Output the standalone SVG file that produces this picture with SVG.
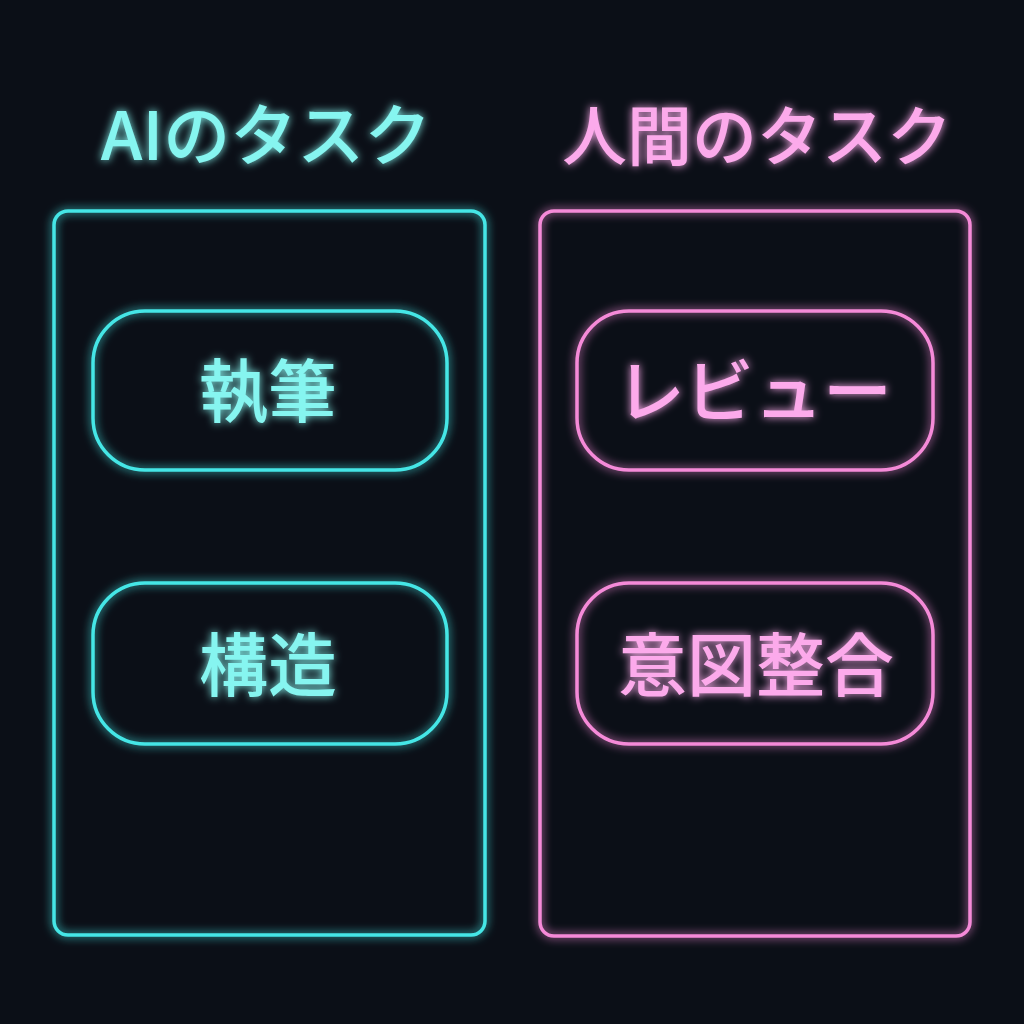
<svg xmlns="http://www.w3.org/2000/svg" width="1024" height="1024" viewBox="0 0 1024 1024">
<defs>
<filter id="glow" x="-20%" y="-20%" width="140%" height="140%">
<feGaussianBlur in="SourceGraphic" stdDeviation="5" result="b"/>
<feMerge><feMergeNode in="b"/><feMergeNode in="SourceGraphic"/></feMerge>
</filter>
<filter id="tglow" x="-20%" y="-40%" width="140%" height="180%">
<feGaussianBlur in="SourceGraphic" stdDeviation="4" result="b"/>
<feMerge><feMergeNode in="b"/><feMergeNode in="SourceGraphic"/></feMerge>
</filter>
<style>
.ai{fill:none;stroke:#45e6e6;stroke-width:3.5}
.hu{fill:none;stroke:#f58ad8;stroke-width:3.5}
.t{font-family:"Noto Sans CJK JP","Noto Sans",sans-serif;font-weight:500;text-anchor:middle}
.ait{fill:#86f5f0}
.hut{fill:#fcaaeb}
</style>
</defs>
<rect width="1024" height="1024" fill="#0b0f17"/>
<g id="ai-title"><text class="t ait" x="266" y="160" font-size="67" filter="url(#tglow)">AIのタスク</text></g>
<g id="human-title"><text class="t hut" x="757" y="160" font-size="65" filter="url(#tglow)">人間のタスク</text></g>
<g id="ai-panel"><rect class="ai" x="54" y="211" width="431" height="724" rx="14" filter="url(#glow)"/></g>
<g id="human-panel"><rect class="hu" x="540" y="211" width="430" height="725" rx="14" filter="url(#glow)"/></g>
<g id="ai-1"><rect class="ai" x="93" y="311" width="354" height="159" rx="52" filter="url(#glow)"/><text class="t ait" x="268" y="417" font-size="69" filter="url(#tglow)">執筆</text></g>
<g id="ai-2"><rect class="ai" x="93" y="583" width="354" height="161" rx="52" filter="url(#glow)"/><text class="t ait" x="268" y="691" font-size="69" filter="url(#tglow)">構造</text></g>
<g id="hu-1"><rect class="hu" x="577" y="311" width="356" height="159" rx="52" filter="url(#glow)"/><text class="t hut" x="754" y="417" font-size="69" filter="url(#tglow)">レビュー</text></g>
<g id="hu-2"><rect class="hu" x="577" y="583" width="356" height="161" rx="52" filter="url(#glow)"/><text class="t hut" x="756" y="691" font-size="69" filter="url(#tglow)">意図整合</text></g>
<g id="connectors"/>
</svg>
